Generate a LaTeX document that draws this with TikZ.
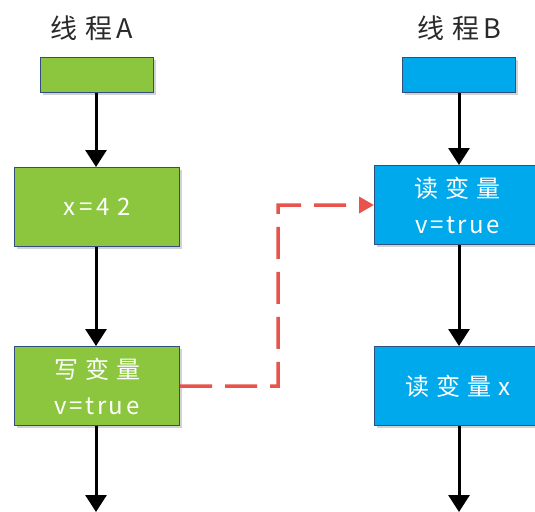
\documentclass[tikz,border=0pt]{standalone}
\usepackage{fontspec}
\setmainfont{Noto Sans CJK SC}
\usetikzlibrary{arrows.meta,shadows}
\definecolor{gA}{HTML}{8CC63F}
\definecolor{bB}{HTML}{00A8EC}
\definecolor{edge}{HTML}{2F4F7F}
\definecolor{redd}{HTML}{E8544C}
\definecolor{ttl}{HTML}{2A2A2A}
\newcommand\cgapx{\kern 7pt}
\newcommand\lgapx{\kern 2.5pt}
\begin{document}
\begin{tikzpicture}[x=1pt,y=-1pt,
  box/.style={draw=edge, line width=1.2pt, minimum width=165pt, minimum height=79pt, anchor=north west, inner sep=0pt, text=white, font=\fontsize{24}{36}\selectfont, align=center, drop shadow={shadow xshift=2pt, shadow yshift=-2pt, opacity=0.35}},
  topbox/.style={draw=edge, line width=1.2pt, minimum width=113pt, minimum height=35pt, anchor=north west, inner sep=0pt, drop shadow={shadow xshift=2pt, shadow yshift=-2pt, opacity=0.35}},
  title/.style={font=\fontsize{27}{28}\selectfont, text=ttl},
  flow/.style={line width=3pt, -{Triangle[length=17pt,width=21pt]}},
  sync/.style={line width=3.5pt, draw=redd, dash pattern=on 32pt off 13pt, -{Triangle[length=15pt,width=16pt]}}]
\clip (0,0) rectangle (535,511);
\fill[white] (0,0) rectangle (535,511);
\node[title] (tA) at (92,28) {线\kern 8pt 程\kern 4pt A};
\node[title] (tB) at (459,28) {线\kern 8pt 程\kern 4pt B};
\node[topbox, fill=gA] (a0) at (40,57) {};
\node[box, fill=gA] (a1) at (14,167) {x\kern 4pt=\kern 4pt 4\kern 8pt 2};
\node[box, fill=gA] (a2) at (14,346) {写\cgapx 变\cgapx 量\\v\lgapx=\lgapx t\lgapx r\lgapx u\lgapx e};
\node[topbox, fill=bB] (b0) at (402,57) {};
\node[box, fill=bB, minimum width=166pt] (b1) at (374,165) {读\cgapx 变\cgapx 量\\v\lgapx=\lgapx t\lgapx r\lgapx u\lgapx e};
\node[box, fill=bB, minimum width=166pt] (b2) at (374,346) {读\cgapx 变\cgapx 量\cgapx x};
\coordinate (aend) at (96,512);
\coordinate (bend) at (459,512);
\draw[flow] (a0.south -| 96,0) -- (a1.north -| 96,0);
\draw[flow] (a1.south -| 96,0) -- (a2.north -| 96,0);
\draw[flow] (a2.south -| 96,0) -- (aend);
\draw[flow] (b0.south -| 459,0) -- (b1.north -| 459,0);
\draw[flow] (b1.south -| 459,0) -- (b2.north -| 459,0);
\draw[flow] (b2.south -| 459,0) -- (bend);
\draw[sync] (a2.east) -- (278,386) -- (278,205) -- (b1.west |- 0,205);
\end{tikzpicture}
\end{document}
